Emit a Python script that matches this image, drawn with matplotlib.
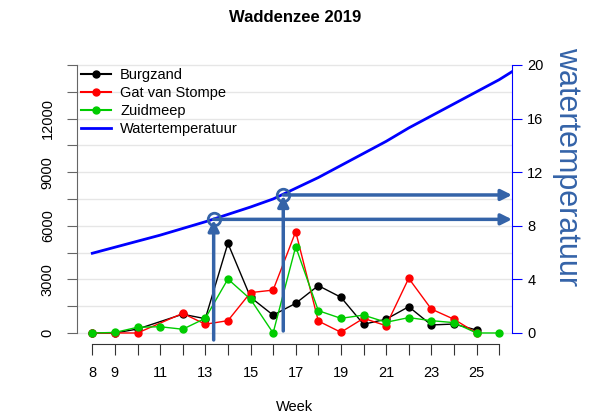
import numpy as np
import matplotlib.pyplot as plt
from matplotlib.lines import Line2D

plt.rcParams['font.family'] = ['Liberation Sans', 'DejaVu Sans']

# Data (aantallen per week)
weeks_burg = [8, 9, 10, 12, 13, 14, 15, 16, 17, 18, 19, 20, 21, 22, 23, 24, 25]
burgzand = [0, 0, 220, 1050, 800, 5020, 2000, 1000, 1660, 2650, 2000, 490, 770, 1470, 450, 500, 170]

weeks_gat = [8, 9, 10, 12, 13, 14, 15, 16, 17, 18, 19, 20, 21, 22, 23, 24, 25]
gat_van_stompe = [0, 0, 0, 1100, 490, 690, 2260, 2400, 5670, 670, 40, 820, 410, 3060, 1340, 770, 0]

weeks_zuid = [8, 9, 10, 11, 12, 13, 14, 15, 16, 17, 18, 19, 20, 21, 22, 23, 24, 25, 26]
zuidmeep = [0, 30, 320, 350, 210, 820, 3020, 1890, 0, 4830, 1250, 820, 1000, 600, 860, 690, 580, 0, 0]

# Watertemperatuur
weeks_temp = [8, 9, 10, 11, 12, 13, 14, 15, 16, 17, 18, 19, 20, 21, 22, 23, 24, 25, 26, 26.57]
temperatuur = [5.95, 6.4, 6.85, 7.3, 7.8, 8.3, 8.85, 9.4, 10.0, 10.8, 11.6, 12.5, 13.4, 14.3,
               15.3, 16.2, 17.1, 18.0, 18.9, 19.5]

# Pijlen (week, temperatuur, onderkant)
arrow_weeks = [13.37, 16.45]
arrow_temps = [8.48, 10.3]
arrow_bottom = [-0.52, 0.15]

week_ticks = list(range(8, 27))
week_labels = ['8', '9', '', '11', '', '13', '', '15', '', '17', '', '19', '', '21', '', '23', '', '25', '']

arrow_color = '#3463A8'
scale = 750  # aantal per graad

fig = plt.figure(figsize=(5.91, 4.16), dpi=100)
ax = fig.add_axes([0.1303, 0.1731, 0.7360, 0.6875])
ax2 = ax.twinx()

ax.set_xlim(7.323, 26.57)
ax.set_ylim(-616, 15392)
ax2.set_ylim(-616 / scale, 15392 / scale)

# Rasterlijnen
for g in np.arange(0, 15001, 1500):
    ax.axhline(g, color='#e6e6e6', lw=1, zorder=0)

ax.plot(weeks_burg, burgzand, color='black', marker='o', ms=5, lw=1, label='Burgzand')
ax.plot(weeks_gat, gat_van_stompe, color='red', marker='o', ms=5, lw=1, label='Gat van Stompe')
ax.plot(weeks_zuid, zuidmeep, color='#00CC00', marker='o', ms=5, lw=1, label='Zuidmeep')

ax2.plot(weeks_temp, temperatuur, color='blue', lw=2, label='Watertemperatuur')

for w, t, b in zip(arrow_weeks, arrow_temps, arrow_bottom):
    ax2.annotate('', xy=(w, t - 0.05), xytext=(w, b),
                 arrowprops=dict(arrowstyle='-|>', color=arrow_color, lw=2.5,
                                 mutation_scale=16, shrinkA=0, shrinkB=0))
    ax2.annotate('', xy=(26.57, t), xytext=(w, t),
                 arrowprops=dict(arrowstyle='-|>', color=arrow_color, lw=2.5,
                                 mutation_scale=16, shrinkA=0, shrinkB=0))
    ax2.plot(w, t, 'o', mfc='none', mec=arrow_color, ms=9, mew=2)

# Assen
for s in ['top', 'right']:
    ax.spines[s].set_visible(False)
for s in ['top', 'left', 'bottom']:
    ax2.spines[s].set_visible(False)

ax.spines['left'].set_bounds(0, 15000)
ax.spines['left'].set_color('#666666')
ax.set_yticks(np.arange(0, 15001, 1500))
ax.set_yticklabels(['0', '', '3000', '', '6000', '', '9000', '', '12000', '', ''])
ax.tick_params(axis='y', color='#666666', length=7, labelsize=10.5, pad=9)
for lbl in ax.get_yticklabels():
    lbl.set_rotation(90)
    lbl.set_va('center')

ax.spines['bottom'].set_bounds(8, 26)
ax.spines['bottom'].set_color('#333333')
ax.set_xticks(week_ticks)
ax.set_xticklabels(week_labels)
ax.tick_params(axis='x', length=8, color='#333333', labelsize=10.5, pad=8)
ax.set_xlabel('Week', fontsize=10.5, labelpad=14)

ax2.spines['right'].set_bounds(0, 20)
ax2.spines['right'].set_color('blue')
ax2.set_yticks([0, 4, 8, 12, 16, 20])
ax2.tick_params(axis='y', color='blue', length=7, labelsize=10.5, pad=4)
ax2.set_ylabel('watertemperatuur', color=arrow_color, fontsize=22, rotation=270)
ax2.yaxis.set_label_coords(1.16, 0.62)

fig.text(0.5, 0.958, 'Waddenzee 2019', ha='center', va='center', fontsize=12,
         fontweight='bold')

handles = [Line2D([], [], color='black', marker='o', ms=5, lw=1.5),
           Line2D([], [], color='red', marker='o', ms=5, lw=1.5),
           Line2D([], [], color='#00CC00', marker='o', ms=5, lw=1.5),
           Line2D([], [], color='blue', lw=2)]
labels = ['Burgzand', 'Gat van Stompe', 'Zuidmeep', 'Watertemperatuur']
ax2.legend(handles, labels, loc='upper left', bbox_to_anchor=(-0.015, 1.0), frameon=False,
           fontsize=10.5, handlelength=2.1, handletextpad=0.6, labelspacing=0.28,
           borderaxespad=0.3)

plt.savefig('out.png', dpi=100)
